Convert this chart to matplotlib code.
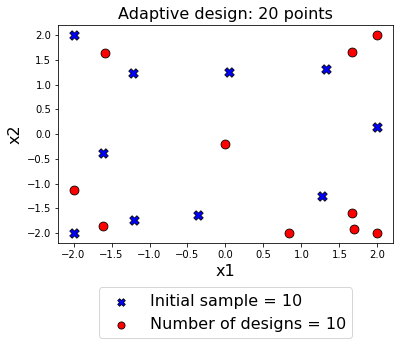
import matplotlib
matplotlib.use("Agg")
import matplotlib.pyplot as plt

# initial sample points (blue X)
init_x1 = [-2.0, -1.22, 0.05, 1.32, 2.0, -1.61, -0.36, -1.21, 1.27, -2.0]
init_x2 = [2.0, 1.23, 1.26, 1.32, 0.15, -0.39, -1.63, -1.73, -1.26, -2.0]

# adaptive design points (red circles)
des_x1 = [-1.58, 1.66, 2.0, -0.01, -2.0, -1.61, 0.83, 1.66, 1.69, 2.0]
des_x2 = [1.64, 1.66, 2.0, -0.20, -1.13, -1.86, -2.0, -1.59, -1.92, -2.0]

n_init = len(init_x1)
n_des = len(des_x1)

fig = plt.figure(figsize=(403 / 72, 344 / 72), dpi=72)
ax = fig.add_axes([58.3 / 403, 1 - 243 / 344, (392.7 - 58.3) / 403, (243 - 25.3) / 344])

ax.scatter(init_x1, init_x2, marker='X', s=90, c='blue', edgecolors='black',
           linewidths=0.8, label=f'Initial sample = {n_init}', zorder=3)
ax.scatter(des_x1, des_x2, marker='o', s=80, c='red', edgecolors='black',
           linewidths=0.8, label=f'Number of designs = {n_des}', zorder=3)

ax.set_xlim(-2.2, 2.2)
ax.set_ylim(-2.2, 2.2)
ax.set_xticks([-2.0, -1.5, -1.0, -0.5, 0.0, 0.5, 1.0, 1.5, 2.0])
ax.set_yticks([-2.0, -1.5, -1.0, -0.5, 0.0, 0.5, 1.0, 1.5, 2.0])
ax.tick_params(labelsize=10)
ax.set_xlabel('x1', fontsize=16)
ax.set_ylabel('x2', fontsize=16)
ax.set_title('Adaptive design: 20 points', fontsize=16)

ax.legend(loc='upper center', bbox_to_anchor=(0.5, -0.167), fontsize=16,
          markerscale=0.8, ncol=1)

fig.savefig('out.png', dpi=72)
